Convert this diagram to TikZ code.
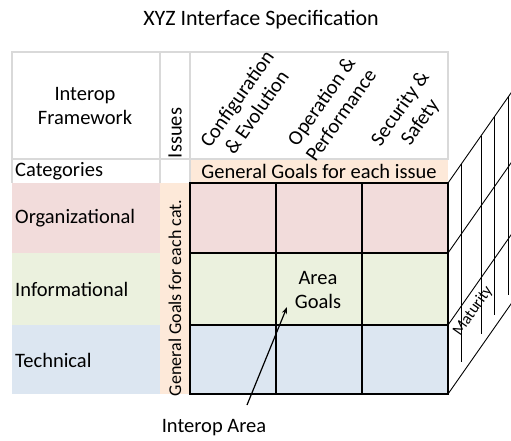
\documentclass[tikz,border=0pt]{standalone}
\usepackage{fontspec}
\setmainfont{Carlito}
\usetikzlibrary{arrows.meta}
\definecolor{pinkc}{HTML}{F2DCDB}
\definecolor{greenc}{HTML}{EBF1DE}
\definecolor{bluec}{HTML}{DCE6F1}
\definecolor{peachc}{HTML}{FDE9D9}
\definecolor{grayline}{HTML}{D9D9D9}
\begin{document}
\begin{tikzpicture}[x=1pt,y=-1pt,
  txt/.style={font=\fontsize{20.5}{24}\selectfont, inner sep=0pt, align=center},
  gridline/.style={line width=2pt, black},
  hdrline/.style={line width=1.5pt, grayline},
  depthline/.style={line width=0.9pt, black},
  pointer/.style={line width=1.2pt, -{Stealth[length=7pt,width=5pt]}}]
\useasboundingbox (0,0) rectangle (511,440);

% fills
\fill[pinkc] (12,183) rectangle (160,253);
\fill[greenc] (12,253) rectangle (160,325);
\fill[bluec] (12,325) rectangle (160,394);
\fill[peachc] (160,183) rectangle (190,394);
\fill[peachc] (190,159) rectangle (448,183);
\fill[pinkc] (190,183) rectangle (448,253);
\fill[greenc] (190,253) rectangle (448,325);
\fill[bluec] (190,325) rectangle (448,394);

% header lines
\draw[hdrline] (12,52) rectangle (448,159);
\draw[hdrline] (160,52) -- (160,183);
\draw[hdrline] (190,52) -- (190,183);
\draw[hdrline] (12,159) -- (12,183);

% depth lines
\begin{scope}
\clip (447,0) rectangle (511,440);
\foreach \y in {183,253,325,394}
  \draw[depthline] (448,\y) -- ++(90,-128.6);
\foreach \x in {461,481,494,508}
  \draw[depthline] (\x,{183-(\x-448)*1.4286}) -- (\x,{381-(\x-448)*1.4286});
\end{scope}

% main grid
\draw[gridline] (190,183) rectangle (448,394);
\draw[gridline] (276,183) -- (276,394);
\draw[gridline] (362,183) -- (362,394);
\draw[gridline] (190,253) -- (448,253);
\draw[gridline] (190,325) -- (448,325);

% texts
\node[txt, font=\fontsize{22}{26}\selectfont] (title) at (261,20) {XYZ Interface Specification};
\node[txt] (fw) at (85,106) {Interop\\Framework};
\node[txt, rotate=90] (iss) at (175,133) {Issues};
\node[txt, rotate=55, anchor=west] (c1) at (214,152) {Configuration\\\& Evolution};
\node[txt, rotate=55, anchor=west] (c2) at (300,152) {Operation \&\\Performance};
\node[txt, rotate=55, anchor=west] (c3) at (386,151) {Security \&\\Safety};
\node[txt, anchor=west] (cat) at (15,171) {Categories};
\node[txt] (ggi) at (319,171) {General Goals for each issue};
\node[txt, anchor=west] (org) at (15,218) {Organizational};
\node[txt, anchor=west] (inf) at (15,289) {Informational};
\node[txt, anchor=west] (tec) at (15,360) {Technical};
\node[txt, font=\fontsize{18}{21}\selectfont, rotate=90] (ggc) at (175,298) {General Goals for each cat.};
\node[txt] (ag) at (318,290) {Area\\Goals};
\node[txt, font=\fontsize{16}{19}\selectfont, rotate=55] (mat) at (473,311) {Maturity};
\node[txt] (ia) at (214,428) {Interop Area};

% arrow
\coordinate (arrS) at (247,405);
\coordinate (arrE) at (287,307);
\draw[pointer] (arrS) -- (arrE);
\end{tikzpicture}
\end{document}
